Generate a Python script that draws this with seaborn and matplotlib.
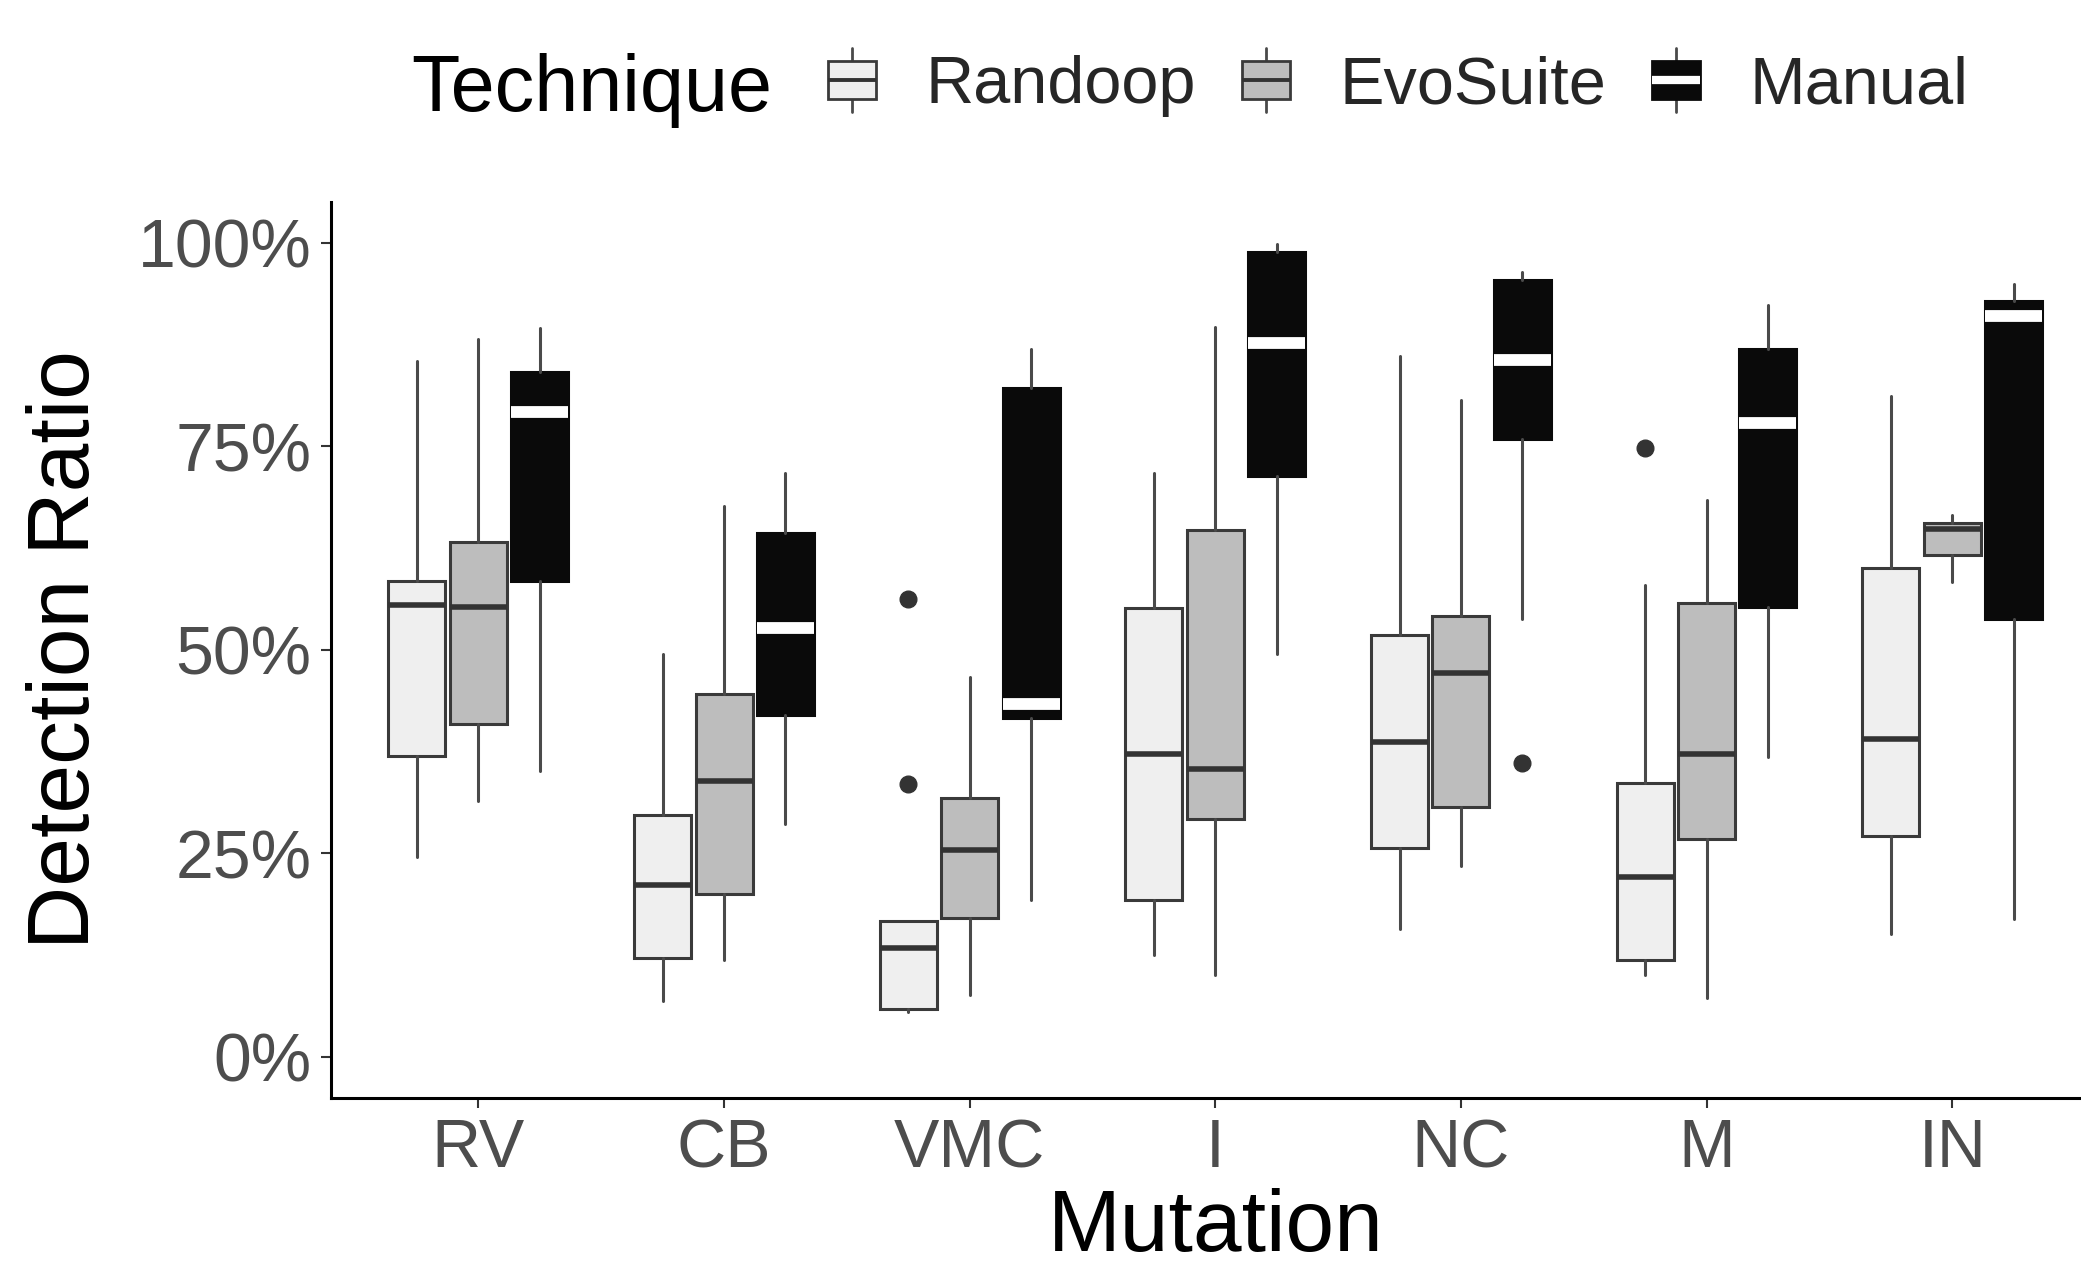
import matplotlib
matplotlib.use("Agg")
import matplotlib.pyplot as plt
import seaborn as sns
from matplotlib.legend_handler import HandlerBase
from matplotlib.patches import Rectangle, Patch
from matplotlib.lines import Line2D
from matplotlib.ticker import PercentFormatter

mutations = ["RV", "CB", "VMC", "I", "NC", "M", "IN"]
techniques = ["Randoop", "EvoSuite", "Manual"]

# box summaries (detection ratio as fraction)
randoop_lo = [0.245, 0.069, 0.055, 0.125, 0.157, 0.100, 0.151]
randoop_q1 = [0.370, 0.121, 0.059, 0.193, 0.256, 0.119, 0.271]
randoop_med = [0.555, 0.211, 0.134, 0.372, 0.387, 0.221, 0.390]
randoop_q3 = [0.585, 0.297, 0.167, 0.551, 0.518, 0.337, 0.600]
randoop_hi = [0.855, 0.495, 0.167, 0.717, 0.861, 0.580, 0.812]
randoop_out = [[], [], [0.563, 0.335], [], [], [0.748], []]

evosuite_lo = [0.314, 0.119, 0.076, 0.101, 0.234, 0.072, 0.583]
evosuite_q1 = [0.409, 0.200, 0.171, 0.292, 0.307, 0.268, 0.616]
evosuite_med = [0.552, 0.339, 0.254, 0.353, 0.472, 0.372, 0.648]
evosuite_q3 = [0.632, 0.446, 0.318, 0.647, 0.541, 0.557, 0.656]
evosuite_hi = [0.882, 0.677, 0.467, 0.896, 0.807, 0.684, 0.666]
evosuite_out = [[], [], [], [], [], [], []]

manual_lo = [0.351, 0.286, 0.193, 0.495, 0.538, 0.368, 0.169]
manual_q1 = [0.585, 0.420, 0.416, 0.713, 0.759, 0.553, 0.538]
manual_med = [0.792, 0.527, 0.434, 0.877, 0.856, 0.779, 0.910]
manual_q3 = [0.841, 0.644, 0.821, 0.988, 0.954, 0.869, 0.928]
manual_hi = [0.895, 0.717, 0.869, 0.998, 0.964, 0.924, 0.949]
manual_out = [[], [], [], [], [0.361], [], []]

summaries = {
    "Randoop": (randoop_lo, randoop_q1, randoop_med, randoop_q3, randoop_hi, randoop_out),
    "EvoSuite": (evosuite_lo, evosuite_q1, evosuite_med, evosuite_q3, evosuite_hi, evosuite_out),
    "Manual": (manual_lo, manual_q1, manual_med, manual_q3, manual_hi, manual_out),
}

fills = {"Randoop": "#efefef", "EvoSuite": "#bdbdbd", "Manual": "#0a0a0a"}
edges = {"Randoop": "#3a3a3a", "EvoSuite": "#3a3a3a", "Manual": "#0a0a0a"}
medcol = {"Randoop": "#333333", "EvoSuite": "#333333", "Manual": "white"}
medlw = {"Randoop": 4.0, "EvoSuite": 4.0, "Manual": 8.5}

sns.set_theme(style="ticks")
plt.rcParams['font.family'] = ['Liberation Sans', 'DejaVu Sans']

fig = plt.figure(figsize=(20.81, 12.70), dpi=100)
ax = fig.add_axes([331 / 2081, 1 - 1097.6 / 1270, (2099.6 - 331) / 2081, (1097.6 - 202) / 1270])

for k, tech in enumerate(techniques):
    lo, q1, med, q3, hi, out = summaries[tech]
    stats = []
    for i in range(len(mutations)):
        stats.append(dict(whislo=lo[i], q1=q1[i], med=med[i], q3=q3[i], whishi=hi[i], fliers=out[i]))
    pos = [i + (k - 1) * 0.25 for i in range(len(mutations))]
    ax.bxp(stats, positions=pos, widths=0.232, patch_artist=True, showcaps=False,
           boxprops=dict(facecolor=fills[tech], edgecolor=edges[tech], linewidth=2.2),
           whiskerprops=dict(color="#4a4a4a", linewidth=2.2),
           medianprops=dict(color=medcol[tech], linewidth=medlw[tech], solid_capstyle="butt"),
           flierprops=dict(marker="o", markersize=12, markerfacecolor="#333333",
                           markeredgecolor="#333333"))

ax.set_xlim(-0.6, 6.6)
ax.set_ylim(-0.05, 1.05)
ax.set_xticks(range(len(mutations)))
ax.set_xticklabels(mutations)
ax.set_yticks([0, 0.25, 0.5, 0.75, 1.0])
ax.yaxis.set_major_formatter(PercentFormatter(1.0, decimals=0))
ax.tick_params(axis="both", labelsize=49, labelcolor="#4d4d4d", color="#333333",
               length=7.2, width=1.5, pad=7)
sns.despine(ax=ax)
for s in ["left", "bottom"]:
    ax.spines[s].set_linewidth(2.2)
    ax.spines[s].set_color("black")
ax.set_xlabel("Mutation", fontsize=63, color="black", labelpad=5)
ax.set_ylabel("Detection Ratio", fontsize=63, color="black", labelpad=22)


class BoxKey(HandlerBase):
    def __init__(self, face, edge, med, mlw):
        super().__init__()
        self.face, self.edge, self.med, self.mlw = face, edge, med, mlw

    def create_artists(self, legend, orig_handle, xdescent, ydescent, width, height, fontsize, trans):
        cx = width / 2 - xdescent
        cy = height / 2 - ydescent
        bw, bh, wl = 0.72 * fontsize, 0.56 * fontsize, 0.95 * fontsize
        whisk = Line2D([cx, cx], [cy - wl / 2, cy + wl / 2], color="#4a4a4a", lw=2, transform=trans)
        rect = Rectangle((cx - bw / 2, cy - bh / 2), bw, bh, facecolor=self.face,
                         edgecolor=self.edge, lw=2, transform=trans)
        mline = Line2D([cx - bw / 2, cx + bw / 2], [cy, cy], color=self.med, lw=self.mlw,
                       solid_capstyle="butt", transform=trans)
        return [whisk, rect, mline]


handles = [Patch(facecolor=fills[t]) for t in techniques]
hmap = {h: BoxKey(fills[t], edges[t], medcol[t], medlw[t] * 0.7) for h, t in zip(handles, techniques)}
fig.legend(handles, techniques, loc="center left", bbox_to_anchor=(819 / 2081, 0.932), ncol=3,
           frameon=False, fontsize=48, handler_map=hmap, handlelength=1.0, handleheight=0.7,
           handletextpad=0.6, columnspacing=0.55, borderpad=0, borderaxespad=0)
fig.text(411 / 2081, 0.929, "Technique", fontsize=57, ha="left", va="center", color="black")

fig.savefig("out.png", dpi=100)
